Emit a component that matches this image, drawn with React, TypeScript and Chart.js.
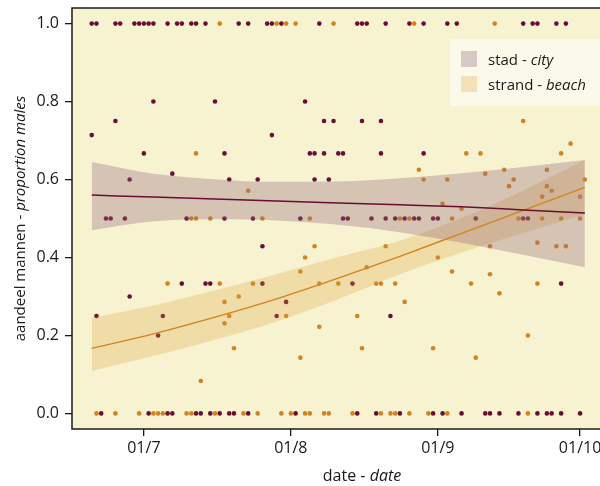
import { useEffect, useRef } from "react";
import { Chart, registerables } from "chart.js";

Chart.register(...registerables);

// x = days since 1 July
const xTickDays = [0, 31, 62, 92];
const xTickLabels = ["01/7", "01/8", "01/9", "01/10"];
const yTickValues = [0, 0.2, 0.4, 0.6, 0.8, 1.0];

// observations: [day, proportion males]
const cityObs: number[][] = [
  [-11, 1], [-10, 1], [-6, 1], [-5, 1], [-2, 1], [-1, 1], [0, 1], [1, 1], [2, 1], [5, 1], [7, 1], [8, 1],
  [10, 1], [11, 1], [13, 1], [20, 1], [22, 1], [26, 1], [27, 1], [29, 1], [37, 1], [45, 1], [46, 1], [47, 1],
  [51, 1], [56, 1], [59, 1], [64, 1], [66, 1], [80, 1], [82, 1], [83, 1], [87, 1], [89, 1],
  [2, 0.8], [15, 0.8], [34, 0.8],
  [-6, 0.75], [38, 0.75], [40, 0.75], [46, 0.75], [50, 0.75],
  [-11, 0.714], [27, 0.714],
  [0, 0.667], [17, 0.667], [35, 0.667], [36, 0.667], [38, 0.667], [41, 0.667], [42, 0.667], [50, 0.667], [59, 0.667],
  [6, 0.615],
  [-3, 0.6], [18, 0.6], [24, 0.6], [36, 0.6], [39, 0.6],
  [-8, 0.5], [-7, 0.5], [-4, 0.5], [9, 0.5], [17, 0.5], [23, 0.5], [33, 0.5], [42, 0.5], [43, 0.5], [48, 0.5],
  [51, 0.5], [53, 0.5], [55, 0.5], [57, 0.5], [58, 0.5], [61, 0.5], [62, 0.5], [70, 0.5], [80, 0.5], [81, 0.5],
  [25, 0.429],
  [8, 0.333], [13, 0.333], [14, 0.333], [25, 0.333], [44, 0.333], [88, 0.333],
  [-3, 0.3], [30, 0.286],
  [-10, 0.25], [4, 0.25], [28, 0.25], [52, 0.25],
  [3, 0.2],
  [-9, 0], [1, 0], [5, 0], [6, 0], [11, 0], [12, 0], [14, 0], [16, 0], [18, 0], [19, 0], [22, 0], [32, 0],
  [45, 0], [49, 0], [54, 0], [61, 0], [63, 0], [67, 0], [72, 0], [73, 0], [75, 0], [79, 0], [83, 0], [85, 0],
  [86, 0], [88, 0], [92, 0],
];

const beachObs: number[][] = [
  [16, 1], [28, 1], [30, 1], [32, 1], [40, 1], [57, 1], [74, 1],
  [80, 0.75], [90, 0.692],
  [11, 0.667], [68, 0.667], [71, 0.667], [88, 0.667],
  [58, 0.625], [76, 0.625], [85, 0.625], [72, 0.615],
  [59, 0.6], [64, 0.6], [78, 0.6], [93, 0.6],
  [77, 0.583], [85, 0.583], [22, 0.571], [86, 0.571], [84, 0.556], [92, 0.556], [63, 0.538], [67, 0.525],
  [10, 0.5], [11, 0.5], [14, 0.5], [25, 0.5], [35, 0.5], [54, 0.5], [56, 0.5], [65, 0.5], [79, 0.5],
  [84, 0.5], [88, 0.5], [92, 0.5],
  [83, 0.438], [36, 0.429], [51, 0.429], [73, 0.429], [87, 0.429], [89, 0.429],
  [34, 0.4], [62, 0.4], [47, 0.375], [33, 0.364], [65, 0.364], [73, 0.357],
  [5, 0.333], [16, 0.333], [23, 0.333], [37, 0.333], [41, 0.333], [49, 0.333], [50, 0.333], [53, 0.333],
  [69, 0.333], [83, 0.333],
  [75, 0.308], [20, 0.3], [17, 0.286], [55, 0.286],
  [18, 0.25], [30, 0.25], [45, 0.25], [17, 0.231], [37, 0.222], [81, 0.2],
  [19, 0.167], [46, 0.167], [61, 0.167], [33, 0.143], [70, 0.143], [12, 0.083],
  [-10, 0], [-6, 0], [-1, 0], [2, 0], [3, 0], [4, 0], [9, 0], [10, 0], [15, 0], [21, 0], [24, 0], [29, 0],
  [31, 0], [34, 0], [35, 0], [38, 0], [39, 0], [44, 0], [50, 0], [52, 0], [53, 0], [56, 0], [60, 0], [64, 0],
  [81, 0],
];

// fitted curves and confidence bands, read at these days
const fitDays = [-11, 2, 15, 28, 41, 54, 67, 80, 93];
const cityFit = [0.56, 0.555, 0.55, 0.545, 0.54, 0.535, 0.53, 0.522, 0.514];
const cityUpper = [0.645, 0.615, 0.601, 0.594, 0.595, 0.603, 0.616, 0.632, 0.65];
const cityLower = [0.47, 0.493, 0.498, 0.495, 0.484, 0.465, 0.438, 0.407, 0.375];
const beachFit = [0.167, 0.204, 0.247, 0.294, 0.347, 0.403, 0.462, 0.521, 0.58];
const beachUpper = [0.246, 0.277, 0.316, 0.357, 0.401, 0.443, 0.501, 0.572, 0.65];
const beachLower = [0.109, 0.147, 0.189, 0.236, 0.293, 0.357, 0.413, 0.463, 0.51];

const FONT = "'Open Sans', sans-serif";
const INK = "#1a1a1a";
const CITY = "#6b0d33";
const BEACH = "#d4821e";
const CITY_BAND = "rgba(150,106,125,0.35)";
const BEACH_BAND = "rgba(222,160,60,0.27)";

type Part = { t: string; i?: boolean };

function drawParts(ctx: CanvasRenderingContext2D, parts: Part[], x: number, y: number, size: number, align: "left" | "center") {
  const fonts = parts.map((p) => `${p.i ? "italic " : ""}${size}px ${FONT}`);
  const widths = parts.map((p, k) => {
    ctx.font = fonts[k];
    return ctx.measureText(p.t).width;
  });
  const total = widths.reduce((a, b) => a + b, 0);
  let cx = align === "center" ? x - total / 2 : x;
  ctx.textAlign = "left";
  ctx.textBaseline = "alphabetic";
  parts.forEach((p, k) => {
    ctx.font = fonts[k];
    ctx.fillText(p.t, cx, y);
    cx += widths[k];
  });
}

const decor = {
  id: "decor",
  beforeDraw(chart: any) {
    const { ctx, chartArea: a } = chart;
    ctx.save();
    ctx.fillStyle = "#f7f3d0";
    ctx.fillRect(a.left, a.top, a.right - a.left, a.bottom - a.top);
    ctx.restore();
  },
  afterDraw(chart: any) {
    const { ctx, chartArea: a } = chart;
    ctx.save();
    // box
    ctx.strokeStyle = INK;
    ctx.lineWidth = 1.5;
    ctx.strokeRect(a.left, a.top, a.right - a.left + 20, a.bottom - a.top);
    // legend
    ctx.fillStyle = "rgba(255,255,255,0.55)";
    ctx.fillRect(450, 39, 160, 67);
    const items: { c: string; parts: Part[] }[] = [
      { c: CITY_BAND, parts: [{ t: "stad - " }, { t: "city", i: true }] },
      { c: BEACH_BAND, parts: [{ t: "strand - " }, { t: "beach", i: true }] },
    ];
    items.forEach((it, k) => {
      ctx.fillStyle = it.c;
      ctx.fillRect(461, 51 + k * 25, 16, 16);
      ctx.fillStyle = INK;
      drawParts(ctx, it.parts, 488, 65 + k * 25, 15, "left");
    });
    // x title
    ctx.fillStyle = INK;
    drawParts(ctx, [{ t: "date - " }, { t: "date", i: true }], 362, 481, 16, "center");
    // y title
    ctx.translate(25, (a.top + a.bottom) / 2);
    ctx.rotate(-Math.PI / 2);
    drawParts(ctx, [{ t: "aandeel mannen - " }, { t: "proportion males", i: true }], 0, 0, 15, "center");
    ctx.restore();
  },
};

const toPts = (ys: number[]) => fitDays.map((d, i) => ({ x: d, y: ys[i] }));

export default function App() {
  const ref = useRef<HTMLCanvasElement | null>(null);
  useEffect(() => {
    document.body.style.margin = "0";
    const canvas = ref.current;
    if (!canvas) return;
    const curve = { pointRadius: 0, cubicInterpolationMode: "monotone" as const, tension: 0.4 };
    const chart = new Chart(canvas, {
      type: "scatter",
      data: {
        datasets: [
          { type: "line", data: toPts(cityFit), borderColor: CITY, borderWidth: 1.5, fill: false, order: 0, ...curve },
          { type: "line", data: toPts(beachFit), borderColor: BEACH, borderWidth: 1.4, fill: false, order: 0, ...curve },
          { type: "line", data: toPts(cityLower), borderColor: "transparent", borderWidth: 0, fill: false, order: 1, ...curve },
          { type: "line", data: toPts(cityUpper), borderColor: "transparent", borderWidth: 0, fill: "-1", backgroundColor: CITY_BAND, order: 1, ...curve },
          { type: "line", data: toPts(beachLower), borderColor: "transparent", borderWidth: 0, fill: false, order: 1, ...curve },
          { type: "line", data: toPts(beachUpper), borderColor: "transparent", borderWidth: 0, fill: "-1", backgroundColor: BEACH_BAND, order: 1, ...curve },
          { data: cityObs.map(([x, y]) => ({ x, y })), backgroundColor: CITY, borderWidth: 0, pointRadius: 2.3, order: 2 },
          { data: beachObs.map(([x, y]) => ({ x, y })), backgroundColor: BEACH, borderWidth: 0, pointRadius: 2.3, order: 2 },
        ] as any,
      },
      options: {
        responsive: false,
        animation: false,
        events: [],
        layout: { autoPadding: false, padding: { top: 8, right: 0, left: 0, bottom: 0 } },
        plugins: { legend: { display: false }, tooltip: { enabled: false } },
        scales: {
          x: {
            type: "linear",
            min: -15.16,
            max: 96.2,
            afterBuildTicks: (s: any) => {
              s.ticks = xTickDays.map((v) => ({ value: v }));
            },
            afterFit: (s: any) => {
              s.height = 57;
              s.paddingLeft = 0;
              s.paddingRight = 0;
            },
            grid: { drawOnChartArea: false, drawTicks: true, tickLength: 7, color: INK, lineWidth: 1.3 },
            border: { display: false },
            ticks: {
              autoSkip: false,
              maxRotation: 0,
              padding: 3,
              color: INK,
              font: { family: FONT, size: 16 },
              callback: (v: any) => xTickLabels[xTickDays.indexOf(Number(v))] ?? "",
            },
          },
          y: {
            type: "linear",
            min: -0.04,
            max: 1.04,
            afterBuildTicks: (s: any) => {
              s.ticks = yTickValues.map((v) => ({ value: v }));
            },
            afterFit: (s: any) => {
              s.width = 72;
              s.paddingTop = 0;
              s.paddingBottom = 0;
            },
            grid: { drawOnChartArea: false, drawTicks: true, tickLength: 7, color: INK, lineWidth: 1.3 },
            border: { display: false },
            ticks: {
              padding: 6,
              color: INK,
              font: { family: FONT, size: 16 },
              callback: (v: any) => Number(v).toFixed(1),
            },
          },
        },
      },
      plugins: [decor],
    });
    return () => chart.destroy();
  }, []);
  return (
    <div style={{ width: 600, height: 486, background: "#ffffff" }}>
      <canvas ref={ref} width={600} height={486} style={{ display: "block" }} />
    </div>
  );
}
